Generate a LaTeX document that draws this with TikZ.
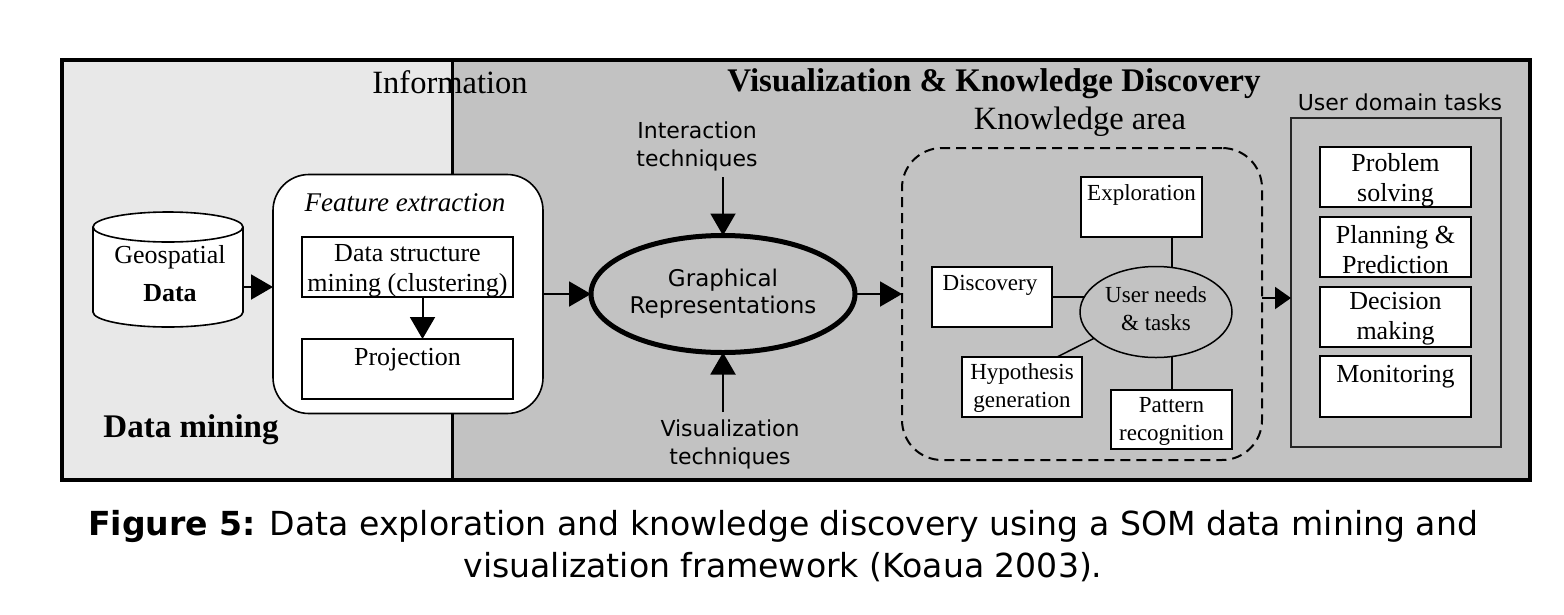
\documentclass[tikz,border=0pt]{standalone}
\usepackage{fontspec}
\setmainfont{Liberation Serif}
\newfontfamily\vsans{DejaVu Sans}
\usetikzlibrary{arrows.meta,shapes.geometric}
\definecolor{lightbg}{RGB}{232,232,232}
\definecolor{midbg}{RGB}{194,194,194}
\begin{document}
\begin{tikzpicture}[x=1pt,y=-1pt,
  every node/.style={inner sep=0pt, outer sep=0pt},
  wbox/.style={draw=black, line width=1.6pt, fill=white, rectangle},
  arr/.style={line width=2pt, -{Triangle[length=22pt,width=25pt]}},
  sarr/.style={line width=2pt, -{Triangle[length=16pt,width=22pt]}},
  link/.style={line width=1.5pt},
  boxtxt/.style={font=\fontsize{26}{30}\selectfont, align=center},
  ktxt/.style={font=\fontsize{23}{28}\selectfont, align=center},
  sanstxt/.style={font=\vsans\fontsize{22}{28}\selectfont, align=center},
  head/.style={font=\fontsize{32.5}{36}\selectfont}
]
\useasboundingbox (0,0) rectangle (1564,614);
\fill[white] (0,0) rectangle (1564,614);
% areas
\node[fill=lightbg, minimum width=390pt, minimum height=420pt] (dmarea) at (257,270) {};
\node[fill=midbg, minimum width=1078pt, minimum height=420pt] (vkarea) at (991,270) {};
\node[head] (info) at (450,82) {Information};
\draw[line width=3pt] (dmarea.north east) -- (dmarea.south east);
\draw[line width=4pt] (dmarea.north west) rectangle (vkarea.south east);
\node[font=\fontsize{33}{36}\selectfont\bfseries] (vkd) at (994,84) {Visualization \& Knowledge Discovery};
\node[font=\fontsize{33}{36}\selectfont\bfseries] (dmtxt) at (191,430) {Data mining};

% cylinder
\node[minimum width=150pt, minimum height=115pt] (geo) at (168,270) {};
\filldraw[fill=white, line width=1.6pt] (93,227) -- (93,312) arc[start angle=180, end angle=0, x radius=75, y radius=15] -- (243,227);
\filldraw[fill=white, line width=1.6pt] (168,227) ellipse[x radius=75, y radius=15];
\node[boxtxt] (geotxt) at (170,257) {Geospatial};
\node[boxtxt, font=\fontsize{26}{30}\selectfont\bfseries] (geotxt2) at (170,293) {Data};

% feature extraction
\node[draw=black, fill=white, line width=1.6pt, rounded corners=36pt, minimum width=270pt, minimum height=239pt] (fe) at (408,294) {};
\node[font=\fontsize{27}{30}\selectfont\itshape] (fetxt) at (405,203) {Feature extraction};
\node[wbox, minimum width=211pt, minimum height=60pt] (ds) at (407.5,267) {};
\node[boxtxt] (dstxt) at (407.5,271) {Data structure\\mining (clustering)};
\node[wbox, minimum width=211pt, minimum height=60pt] (proj) at (407.5,369) {};
\node[boxtxt] (projtxt) at (407.5,360) {Projection};
\draw[arr] ([xshift=15pt]ds.south) -- ([xshift=15pt]proj.north);
\draw[arr] ([yshift=-17pt]geo.east) -- ([yshift=-17pt]geo.east -| fe.west);

% graphical representations
\node[ellipse, draw=black, line width=5pt, minimum width=247pt, minimum height=117pt, sanstxt, font=\vsans\fontsize{23}{27}\selectfont] (gr) at (723,294) {Graphical\\Representations};
\draw[arr] (fe.east) -- (gr.west);
\node[sanstxt] (it) at (697,146) {Interaction\\techniques};
\node[sanstxt] (vt) at (730,444) {Visualization\\techniques};
\draw[arr] (gr.north |- 0,177) -- (gr.north);
\draw[arr] (gr.south |- 0,412) -- (gr.south);

% knowledge area
\node[head] (katxt) at (1080,122) {Knowledge area};
\node[draw=black, dashed, dash pattern=on 10pt off 6pt, line width=2pt, rounded corners=40pt, minimum width=360pt, minimum height=312pt] (ka) at (1082,304) {};
\draw[arr] (gr.east) -- (gr.east -| ka.west);

\node[wbox, minimum width=121pt, minimum height=60pt] (expl) at (1141.5,207) {};
\node[ktxt] (expltxt) at (1141.5,195) {Exploration};
\node[wbox, minimum width=120pt, minimum height=60pt] (disc) at (992,297) {};
\node[ktxt] (disctxt) at (990,285) {Discovery};
\node[ellipse, draw=black, line width=1.5pt, minimum width=152pt, minimum height=91pt] (un) at (1156,312) {};
\node[ktxt] (untxt) at (1156,309) {User needs\\\& tasks};
\node[wbox, minimum width=120pt, minimum height=60pt] (hyp) at (1022,387) {};
\node[ktxt] (hyptxt) at (1022,388) {Hypothesis\\generation};
\node[wbox, minimum width=121pt, minimum height=59pt] (pat) at (1171.5,419.5) {};
\node[ktxt] (pattxt) at (1171.5,421) {Pattern\\recognition};
\draw[link] (un.70) -- (un.70 |- expl.south);
\draw[link] (un.-70) -- (un.-70 |- pat.north);
\draw[link] (disc.east) -- (disc.east -| un.168);
\draw[link] (un.-157) -- ([xshift=35pt]hyp.north);

% user domain tasks
\node[sanstxt] (udtxt) at (1400,102) {User domain tasks};
\node[draw=black!85, line width=2pt, fill=midbg, minimum width=210pt, minimum height=329pt] (ud) at (1396,282.5) {};
\draw[sarr] (ka.east |- 0,298) -- (ud.west |- 0,298);
\node[wbox, minimum width=151pt, minimum height=60pt] (ps) at (1395.5,177) {};
\node[boxtxt] (pstxt) at (1395.5,180) {Problem\\solving};
\node[wbox, minimum width=151pt, minimum height=60pt] (pp) at (1395.5,247) {};
\node[boxtxt] (pptxt) at (1395.5,250) {Planning \&\\Prediction};
\node[wbox, minimum width=151pt, minimum height=60pt] (dm) at (1395.5,317) {};
\node[boxtxt] (dmtxt2) at (1395.5,319) {Decision\\making};
\node[wbox, minimum width=151pt, minimum height=61pt] (mo) at (1395.5,386.5) {};
\node[boxtxt] (motxt) at (1395.5,377) {Monitoring};

% caption
\node[font=\vsans\fontsize{33.1}{42}\selectfont, align=center] (cap) at (783,546) {{\bfseries Figure 5:} Data exploration and knowledge discovery using a SOM data mining and\\visualization framework (Koaua 2003).};
\end{tikzpicture}
\end{document}
